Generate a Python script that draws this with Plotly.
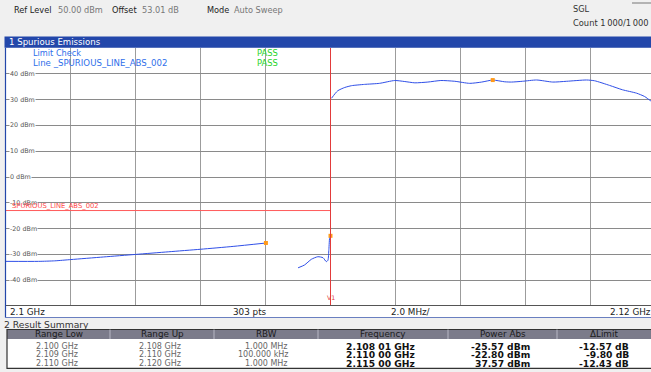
import plotly.graph_objects as go

# ---------------- data ----------------
seg1_freq = [2.1000, 2.1010, 2.1015, 2.1020, 2.1030, 2.1040, 2.1050, 2.1060, 2.1070, 2.1080]
seg1_pow = [-32.7, -32.7, -32.5, -32.0, -31.0, -30.0, -29.0, -28.0, -26.9, -25.6]

seg2_freq = [2.10900, 2.10920, 2.10941, 2.10961, 2.10977, 2.10987, 2.10992, 2.10995, 2.10998, 2.11000]
seg2_pow = [-35.2, -34.1, -31.9, -30.9, -31.3, -32.8, -32.3, -28.1, -23.0, -22.8]

seg3_freq = [2.11003, 2.11022, 2.11044, 2.11065, 2.11105, 2.11151, 2.11198, 2.11229, 2.11260,
             2.11300, 2.11340, 2.11383, 2.11429, 2.11466, 2.11500, 2.11537, 2.11558, 2.11592,
             2.11635, 2.11685, 2.11728, 2.11789, 2.11814, 2.11860, 2.11900, 2.11943, 2.11968,
             2.11987, 2.12000]
seg3_pow = [30.5, 33.4, 34.7, 35.4, 35.9, 36.3, 37.4, 37.0, 36.5,
            36.8, 37.4, 37.1, 36.3, 36.8, 37.57, 36.9, 36.8, 37.1,
            37.6, 36.8, 37.1, 37.6, 37.3, 35.5, 33.8, 32.5, 31.2,
            29.5, 28.9]

limit_freq = [2.100, 2.110]
limit_pow = [-13.0, -13.0]

marker_freq = [2.10801, 2.11000, 2.11500]
marker_pow = [-25.57, -22.80, 37.57]

y_ticks = [40, 30, 20, 10, 0, -10, -20, -30, -40]

col_headers = ["Range Low", "Range Up", "RBW", "Frequency", "Power Abs", "\u0394Limit"]
range_low = ["2.100 GHz", "2.109 GHz", "2.110 GHz"]
range_up = ["2.108 GHz", "2.110 GHz", "2.120 GHz"]
rbw = ["1.000 MHz", "100.000 kHz", "1.000 MHz"]
freq_txt = ["2.108 01 GHz", "2.110 00 GHz", "2.115 00 GHz"]
power_abs = ["-25.57 dBm", "-22.80 dBm", "37.57 dBm"]
delta_limit = ["-12.57 dB", "-9.80 dB", "-12.43 dB"]

# ---------------- geometry helpers ----------------
W, H = 651, 372
L, R, T, B = 6, 0, 48, 66
PW, PH = W - L - R, H - T - B
FONT = "DejaVu Sans"


def X(px):
    return (px - L) / PW


def Y(py):
    return (H - B - py) / PH


x_end = 2.1 + (PW / 64.9) * 0.002

fig = go.Figure()

trace_col = "#2f4fe8"
for fx, py in [(seg1_freq, seg1_pow), (seg2_freq, seg2_pow), (seg3_freq, seg3_pow)]:
    fig.add_trace(go.Scatter(x=fx, y=py, mode="lines",
                             line=dict(color=trace_col, width=1, shape="spline", smoothing=0.6),
                             hoverinfo="skip", showlegend=False))

fig.add_trace(go.Scatter(x=limit_freq, y=limit_pow, mode="lines",
                         line=dict(color="#ff5a5a", width=1), showlegend=False, hoverinfo="skip"))

fig.add_trace(go.Scatter(x=marker_freq, y=marker_pow, mode="markers",
                         marker=dict(color="#ff9a1a", size=4, symbol="square"),
                         showlegend=False, hoverinfo="skip"))

shapes = []
ann = []

# header background & title bar
shapes.append(dict(type="rect", xref="paper", yref="paper", x0=X(0), x1=X(W), y0=Y(0), y1=Y(36.5),
                   fillcolor="#f0f0f0", line=dict(width=0), layer="below"))
shapes.append(dict(type="line", xref="paper", yref="paper", x0=X(632), x1=X(651), y0=Y(3), y1=Y(3),
                   line=dict(color="#777777", width=1)))
shapes.append(dict(type="rect", xref="paper", yref="paper", x0=X(4.5), x1=X(W), y0=Y(36.5), y1=Y(47.8),
                   fillcolor="#2347aa", line=dict(width=0)))

# V1 marker line at 2.11
shapes.append(dict(type="line", xref="x", yref="paper", x0=marker_freq[1], x1=marker_freq[1], y0=0, y1=1,
                   line=dict(color="#e23b3b", width=1)))

# bottom axis row
shapes.append(dict(type="rect", xref="paper", yref="paper", x0=X(5.5), x1=X(W), y0=Y(305.5), y1=Y(317.5),
                   fillcolor="white", line=dict(width=0)))
shapes.append(dict(type="line", xref="paper", yref="paper", x0=X(5.5), x1=X(W), y0=Y(305.5), y1=Y(305.5),
                   line=dict(color="#555555", width=1)))
shapes.append(dict(type="line", xref="paper", yref="paper", x0=X(5.5), x1=X(W), y0=Y(317.5), y1=Y(317.5),
                   line=dict(color="#6a7fc0", width=1)))
# left blue frame border
shapes.append(dict(type="line", xref="paper", yref="paper", x0=X(5.5), x1=X(5.5), y0=Y(47.8), y1=Y(317.5),
                   line=dict(color="#2347aa", width=1.2)))

# table
col_edges = [7, 110, 214, 318, 448, 557, 651]
tb_top, hd_bot, tb_bot = 329.5, 339.0, 368.3
shapes.append(dict(type="rect", xref="paper", yref="paper", x0=X(7), x1=X(W), y0=Y(hd_bot), y1=Y(tb_bot),
                   fillcolor="white", line=dict(width=0)))
shapes.append(dict(type="rect", xref="paper", yref="paper", x0=X(7), x1=X(W), y0=Y(tb_top), y1=Y(hd_bot),
                   fillcolor="#7b7b8a", line=dict(width=0)))
shapes.append(dict(type="rect", xref="paper", yref="paper", x0=X(7), x1=X(W + 2), y0=Y(tb_top), y1=Y(tb_bot),
                   fillcolor="rgba(0,0,0,0)", line=dict(color="#333333", width=1.2)))
for e in col_edges[1:-1]:
    shapes.append(dict(type="line", xref="paper", yref="paper", x0=X(e), x1=X(e), y0=Y(tb_top), y1=Y(hd_bot),
                       line=dict(color="#b8b8c4", width=1)))


def txt(px, py, s, size=7.5, color="#333333", anchor="left", bold=False, bg=None, family=FONT, yref="paper", yval=None):
    d = dict(xref="paper", yref=yref, x=X(px), y=(Y(py) if yval is None else yval), text=("<b>%s</b>" % s if bold else s),
             showarrow=False, xanchor=anchor, yanchor="middle",
             font=dict(family=family, size=size, color=color))
    if bg:
        d["bgcolor"] = bg
        d["borderpad"] = 0
    ann.append(d)


# header texts
txt(12, 10, "Ref Level", 8.2, "#222222")
txt(56, 10, "50.00 dBm", 8.2, "#777777")
txt(110, 10, "Offset", 8.2, "#222222")
txt(140, 10, "53.01 dB", 8.2, "#777777")
txt(205, 10, "Mode", 8.2, "#222222")
txt(232, 10, "Auto Sweep", 8.2, "#777777")
txt(571, 9.5, "SGL", 8.2, "#333333")
txt(571, 22.5, "Count 1\u2009000/1\u2009000", 8.3, "#333333")

txt(7, 42.3, "1 Spurious Emissions", 8.6, "white")

# limit check texts
txt(31, 52.5, "Limit Check", 8.2, "#2f6fea")
txt(31, 63, "Line _SPURIOUS_LINE_ABS_002", 8.6, "#2f6fea")
txt(255, 52.5, "PASS", 8.4, "#28d428")
txt(255, 63, "PASS", 8.4, "#28d428")

# y tick labels (inside plot)
for v in y_ticks:
    txt(8.5, 0, "%d dBm" % v, 6.4, "#555555", bg="white", yref="y", yval=v)

# limit line label
txt(9.5, 206, "SPURIOUS_LINE_ABS_002", 6.8, "#ff4a4a")
txt(331, 297, "V1", 6.3, "#e23b3b", anchor="center")

# bottom axis row labels
txt(8, 311.5, "2.1 GHz", 8.8, "#222222")
txt(250, 311.5, "303 pts", 8.8, "#222222", anchor="center")
txt(410, 311.5, "2.0 MHz/", 8.8, "#222222", anchor="center")
txt(653, 311.5, "2.12 GHz", 8.8, "#222222", anchor="right")

txt(2, 324.3, "2 Result Summary", 9.2, "#333333")

# table header
for i, h in enumerate(col_headers):
    cx = (col_edges[i] + col_edges[i + 1]) / 2
    txt(cx, 334.4, h, 8.8, "#1a1a1a", anchor="center")

row_y = [346.6, 354.9, 363.2]
for r in range(3):
    txt(80, row_y[r], range_low[r], 8.0, "#666666", anchor="right")
    txt(183, row_y[r], range_up[r], 8.0, "#666666", anchor="right")
    txt(290, row_y[r], rbw[r], 8.0, "#666666", anchor="right")
    txt(417, row_y[r], freq_txt[r], 9.2, "#111111", anchor="right", bold=True)
    txt(532, row_y[r], power_abs[r], 9.2, "#111111", anchor="right", bold=True)
    txt(631, row_y[r], delta_limit[r], 9.2, "#111111", anchor="right", bold=True)

fig.update_layout(
    width=W, height=H,
    margin=dict(l=L, r=R, t=T, b=B, pad=0),
    paper_bgcolor="#f0f0f0",
    plot_bgcolor="white",
    showlegend=False,
    hovermode=False,
    dragmode=False,
    shapes=shapes,
    annotations=ann,
    xaxis=dict(range=[2.1, x_end], tick0=2.1, dtick=0.002, showgrid=True, gridcolor="#9c9c9c", gridwidth=1,
               showticklabels=False, zeroline=False, showline=False, ticks="", showspikes=False),
    yaxis=dict(range=[-50, 50], tick0=0, dtick=10, showgrid=True, gridcolor="#8a8a8a", gridwidth=1,
               showticklabels=False, zeroline=False, showline=False, ticks="", showspikes=False),
)

fig.write_html("out.html", config={"displayModeBar": False, "staticPlot": True})

# remove the default page margin so the figure sits at the window's top-left corner
with open("out.html", "r", encoding="utf-8") as fh:
    html = fh.read()
html = html.replace("<head>", "<head><style>html,body{margin:0;padding:0;overflow:hidden;}</style>", 1)
with open("out.html", "w", encoding="utf-8") as fh:
    fh.write(html)
